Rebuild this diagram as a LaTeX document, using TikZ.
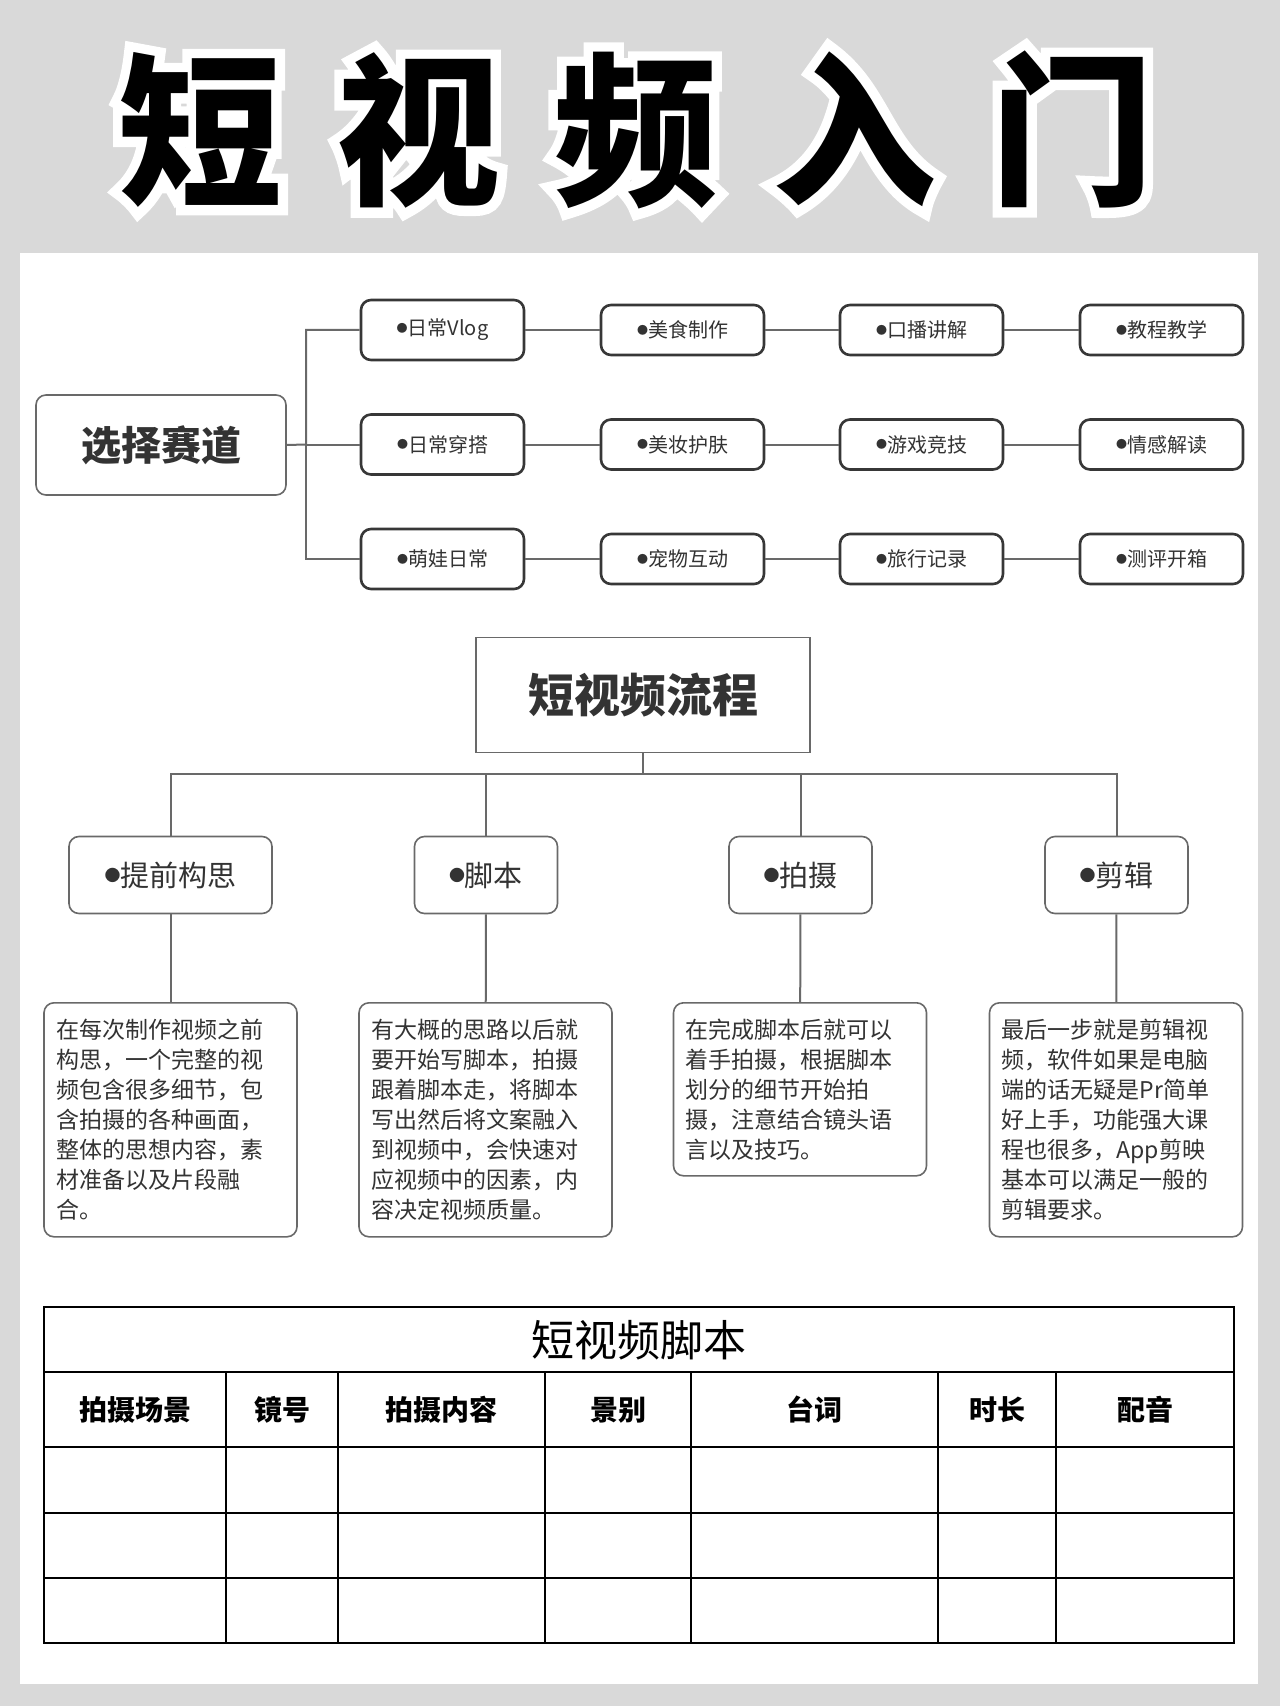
\documentclass[tikz,border=0pt]{standalone}
\usepackage{fontspec}
\setmainfont{Noto Sans CJK SC}
\newfontfamily\halofont{Noto Sans CJK SC}[BoldFeatures={FakeBold=12}]
\usetikzlibrary{positioning}
\definecolor{PageGray}{RGB}{217,217,217}
\definecolor{BoxLine}{RGB}{55,55,55}
\definecolor{SoftLine}{RGB}{105,105,105}
\definecolor{InkGray}{RGB}{51,51,51}
\newcommand{\bul}{\raisebox{0.16em}{\scalebox{0.55}{●}}}
\newcommand{\titletext}{短\hspace{27pt}视\hspace{27pt}频\hspace{27pt}入\hspace{27pt}门}

\begin{document}
\begin{tikzpicture}[x=0.5pt, y=-0.5pt,
    tagbox/.style={draw=BoxLine, line width=1.3pt, rounded corners=5pt,
      minimum width=81.5pt, minimum height=25pt, inner sep=0pt,
      text=InkGray, font=\fontsize{10}{12}\selectfont},
    stepbox/.style={draw=SoftLine, line width=0.8pt, rounded corners=5pt,
      minimum height=38.5pt, inner sep=0pt, text=InkGray,
      font=\fontsize{14.5}{16}\selectfont},
    notebox/.style={draw=SoftLine, line width=0.8pt, rounded corners=5pt,
      anchor=north, text width=114.5pt, inner xsep=6pt, inner ysep=0pt,
      align=left, text=InkGray, font=\fontsize{11.5}{15}\selectfont},
    link/.style={draw=SoftLine, line width=1pt},
    grid/.style={draw=black, line width=1pt},
    head/.style={font=\bfseries\fontsize{14}{16}\selectfont}
  ]
  % Fondo
  \fill[PageGray] (0,0) rectangle (1280,1706);
  \fill[white] (20,253) rectangle (1258,1684);
  \useasboundingbox (0,0) rectangle (1280,1706);

  % Titulo
  \node[white, font=\halofont\bfseries\fontsize{82}{82}\selectfont] (halo) at (636.5,130) {\titletext};
  \node[black, font=\bfseries\fontsize{82}{82}\selectfont] (title) at (636.5,130) {\titletext};

  % Seleccion de tema
  \node[draw=SoftLine, line width=0.8pt, rounded corners=5pt, minimum width=125pt,
    minimum height=50pt, text=InkGray, font=\bfseries\fontsize{20}{22}\selectfont] (track) at (161,445) {选择赛道};

  \node[tagbox, minimum height=30pt] (vlog)   at (442.5,330)   {\bul 日常Vlog};
  \node[tagbox, minimum height=30pt] (outfit) at (442.5,444.5) {\bul 日常穿搭};
  \node[tagbox, minimum height=30pt] (baby)   at (442.5,559)   {\bul 萌娃日常};
  \node[tagbox] (food)    at (682.5,330)    {\bul 美食制作};
  \node[tagbox] (makeup)  at (682.5,444.5)  {\bul 美妆护肤};
  \node[tagbox] (pet)     at (682.5,559)    {\bul 宠物互动};
  \node[tagbox] (talk)    at (921.5,330)    {\bul 口播讲解};
  \node[tagbox] (game)    at (921.5,444.5)  {\bul 游戏竞技};
  \node[tagbox] (travel)  at (921.5,559)    {\bul 旅行记录};
  \node[tagbox] (teach)   at (1161.5,330)   {\bul 教程教学};
  \node[tagbox] (emotion) at (1161.5,444.5) {\bul 情感解读};
  \node[tagbox] (review)  at (1161.5,559)   {\bul 测评开箱};

  \coordinate (fork) at (306,444.5);
  \draw[link] (track.east) -- (fork) |- (vlog.west);
  \draw[link] (fork) |- (baby.west);
  \draw[link] (fork) -- (outfit.west);
  \draw[link] (vlog) -- (food);   \draw[link] (food) -- (talk);     \draw[link] (talk) -- (teach);
  \draw[link] (outfit) -- (makeup); \draw[link] (makeup) -- (game); \draw[link] (game) -- (emotion);
  \draw[link] (baby) -- (pet);    \draw[link] (pet) -- (travel);    \draw[link] (travel) -- (review);

  % Flujo
  \node[draw=SoftLine, line width=0.8pt, minimum width=167pt, minimum height=57.5pt,
    text=InkGray, font=\bfseries\fontsize{23}{25}\selectfont] (flow) at (643,695) {短视频流程};
  \coordinate (split) at (643,774);

  \node[stepbox, minimum width=101.5pt] (idea)   at (170.5,875)  {\bul 提前构思};
  \node[stepbox, minimum width=71.5pt]  (script) at (486,875)    {\bul 脚本};
  \node[stepbox, minimum width=71.5pt]  (shoot)  at (800.5,875)  {\bul 拍摄};
  \node[stepbox, minimum width=71.5pt]  (cut)    at (1116.5,875) {\bul 剪辑};

  \draw[link] (flow) -- (split);
  \draw[link] (idea.north) |- (split) -| (cut.north);
  \draw[link] (split) -| (script.north);
  \draw[link] (split) -| (shoot.north);

  \node[notebox, minimum height=117pt] (ideanote) at (170.5,1002) {在每次制作视频之前\\构思，一个完整的视\\频包含很多细节，包\\含拍摄的各种画面，\\整体的思想内容，素\\材准备以及片段融\\合。};
  \node[notebox, minimum height=117pt] (scriptnote) at (485.5,1002) {有大概的思路以后就\\要开始写脚本，拍摄\\跟着脚本走，将脚本\\写出然后将文案融入\\到视频中，会快速对\\应视频中的因素，内\\容决定视频质量。};
  \node[notebox, minimum height=86.5pt] (shootnote) at (800,1002) {在完成脚本后就可以\\着手拍摄，根据脚本\\划分的细节开始拍\\摄，注意结合镜头语\\言以及技巧。};
  \node[notebox, minimum height=117pt] (cutnote) at (1116,1002) {最后一步就是剪辑视\\频，软件如果是电脑\\端的话无疑是Pr简单\\好上手，功能强大课\\程也很多，App剪映\\基本可以满足一般的\\剪辑要求。};

  \draw[link] (idea) -- (ideanote);
  \draw[link] (script) -- (scriptnote);
  \draw[link] (shoot) -- (shootnote);
  \draw[link] (cut) -- (cutnote);

  % Tabla
  \draw[grid] (44,1307) rectangle (1234,1643);
  \foreach \yy in {1372,1447,1513,1578} \draw[grid, line width=1.3pt] (44,\yy) -- (1234,\yy);
  \foreach \xx in {226,338,545,691,938,1056} \draw[grid] (\xx,1372) -- (\xx,1643);

  \node[font=\fontsize{21.5}{24}\selectfont] (sheet) at (639,1340) {短视频脚本};
  \node[head] (scene)  at (135,1410)  {拍摄场景};
  \node[head] (shot)   at (282,1410)  {镜号};
  \node[head] (content) at (441.5,1410) {拍摄内容};
  \node[head] (size)   at (618,1410)  {景别};
  \node[head] (lines)  at (814.5,1410) {台词};
  \node[head] (length) at (997,1410)  {时长};
  \node[head] (voice)  at (1145,1410) {配音};
\end{tikzpicture}
\end{document}
